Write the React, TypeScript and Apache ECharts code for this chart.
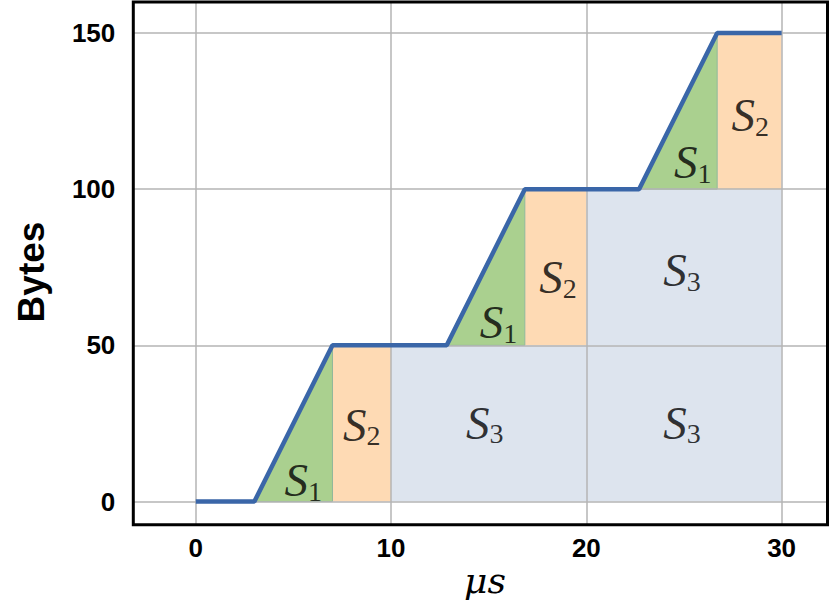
import React, { useEffect, useRef } from "react";
import * as echarts from "echarts";

// Step curve (µs, bytes)
const lineX = [0, 3, 7, 12.85, 16.85, 22.7, 26.7, 30];
const lineY = [0, 0, 50, 50, 100, 100, 150, 150];

// S1 triangles: [xStart, yBase, xEnd, yTop]
const s1Tri = [
  [3, 0, 7, 50],
  [12.85, 50, 16.85, 100],
  [22.7, 100, 26.7, 150],
];
// S2 rectangles: [x0, y0, x1, y1]
const s2Rect = [
  [7, 0, 10, 50],
  [16.85, 50, 20, 100],
  [26.7, 100, 30, 150],
];
// S3 rectangles
const s3Rect = [
  [10, 0, 30, 50],
  [20, 50, 30, 100],
];

// Region labels: [x, y, name, subscript]
const regionLabels: [number, number, string, string][] = [
  [5.5, 6.8, "S", "1"],
  [8.5, 24.6, "S", "2"],
  [14.8, 25.3, "S", "3"],
  [15.5, 57.4, "S", "1"],
  [18.55, 71.8, "S", "2"],
  [24.9, 74.0, "S", "3"],
  [24.9, 25.3, "S", "3"],
  [25.45, 108.6, "S", "1"],
  [28.4, 123.7, "S", "2"],
];

const xTicks = [0, 10, 20, 30];
const yTicks = [0, 50, 100, 150];

const GREEN = "#aad08f";
const ORANGE = "#fedab4";
const BLUE = "#dde4ee";

export default function App() {
  const ref = useRef<HTMLDivElement>(null);
  useEffect(() => {
    if (!ref.current) return;
    const chart = echarts.init(ref.current, null, { renderer: "svg" });

    const polys: { pts: number[][]; fill: string; stroke: string }[] = [];
    s3Rect.forEach(([x0, y0, x1, y1]) =>
      polys.push({ pts: [[x0, y0], [x1, y0], [x1, y1], [x0, y1]], fill: BLUE, stroke: "none" })
    );
    s2Rect.forEach(([x0, y0, x1, y1]) =>
      polys.push({ pts: [[x0, y0], [x1, y0], [x1, y1], [x0, y1]], fill: ORANGE, stroke: "none" })
    );
    s1Tri.forEach(([xs, yb, xe, yt]) =>
      polys.push({ pts: [[xs, yb], [xe, yt], [xe, yb]], fill: GREEN, stroke: "#8fb89a" })
    );

    const axisLabelStyle = {
      fontFamily: "Liberation Sans",
      fontWeight: "bold" as const,
      fontSize: 26,
      color: "#000",
    };
    const serif = "'Liberation Serif', 'DejaVu Serif', serif";

    chart.setOption({
      animation: false,
      grid: {
        left: 133.3,
        right: 2.5,
        top: 2,
        bottom: 75.3,
        show: false,
      },
      xAxis: {
        type: "value",
        min: -3.2,
        max: 32.35,
        z: 3,
        axisLine: { show: false },
        axisTick: { show: false, customValues: xTicks },
        axisLabel: { ...axisLabelStyle, margin: 10, customValues: xTicks },
        splitLine: { show: true, lineStyle: { color: "#b4b4b4", width: 1.5 } },
      },
      yAxis: {
        type: "value",
        min: -7.4,
        max: 159.9,
        z: 3,
        axisLine: { show: false },
        axisTick: { show: false, customValues: yTicks },
        axisLabel: { ...axisLabelStyle, margin: 18, customValues: yTicks },
        splitLine: { show: true, lineStyle: { color: "#b4b4b4", width: 1.5 } },
      },
      graphic: [
        {
          type: "rect",
          z: 10,
          silent: true,
          shape: { x: 133.3, y: 2, width: 830 - 2.5 - 133.3, height: 524.7 - 2 },
          style: { fill: null, stroke: "#000", lineWidth: 3 },
        },
        {
          type: "text",
          x: 31,
          y: 272,
          rotation: Math.PI / 2,
          style: {
            text: "Bytes",
            fontFamily: "Liberation Sans",
            fontWeight: "bold",
            fontSize: 37,
            fill: "#000",
            align: "center",
            verticalAlign: "middle",
          },
        },
        {
          type: "text",
          x: 485,
          y: 580,
          style: {
            text: "\u03bcs",
            fontFamily: "'DejaVu Serif', serif",
            fontStyle: "italic",
            fontSize: 36,
            fill: "#000",
            align: "center",
            verticalAlign: "middle",
          },
        },
      ],
      series: [
        {
          type: "custom",
          z: 1,
          silent: true,
          data: polys.map((_, i) => i),
          renderItem: (params: any, api: any) => {
            const p = polys[api.value(0)];
            return {
              type: "polygon",
              shape: { points: p.pts.map((pt) => api.coord(pt)) },
              style: {
                fill: p.fill,
                stroke: p.stroke === "none" ? null : p.stroke,
                lineWidth: 1,
              },
            };
          },
        },
        {
          type: "line",
          z: 5,
          data: lineX.map((x, i) => [x, lineY[i]]),
          symbol: "none",
          lineStyle: { color: "#3a66a8", width: 4.5 },
        },
        {
          type: "scatter",
          z: 6,
          symbolSize: 1,
          itemStyle: { color: "rgba(0,0,0,0)" },
          data: regionLabels.map(([x, y]) => [x, y]),
          label: {
            show: true,
            position: "inside",
            formatter: (p: any) =>
              `{a|${regionLabels[p.dataIndex][2]}}{b|${regionLabels[p.dataIndex][3]}}`,
            rich: {
              a: {
                fontFamily: serif,
                fontStyle: "italic",
                fontSize: 47,
                lineHeight: 50,
                color: "#000",
              },
              b: {
                fontFamily: serif,
                fontSize: 28,
                lineHeight: 28,
                verticalAlign: "bottom",
                color: "#000",
              },
            },
          },
        },
      ],
    });
    return () => chart.dispose();
  }, []);
  return (
    <div
      ref={ref}
      style={{ position: "absolute", left: 0, top: 0, width: 830, height: 600 }}
    />
  );
}
